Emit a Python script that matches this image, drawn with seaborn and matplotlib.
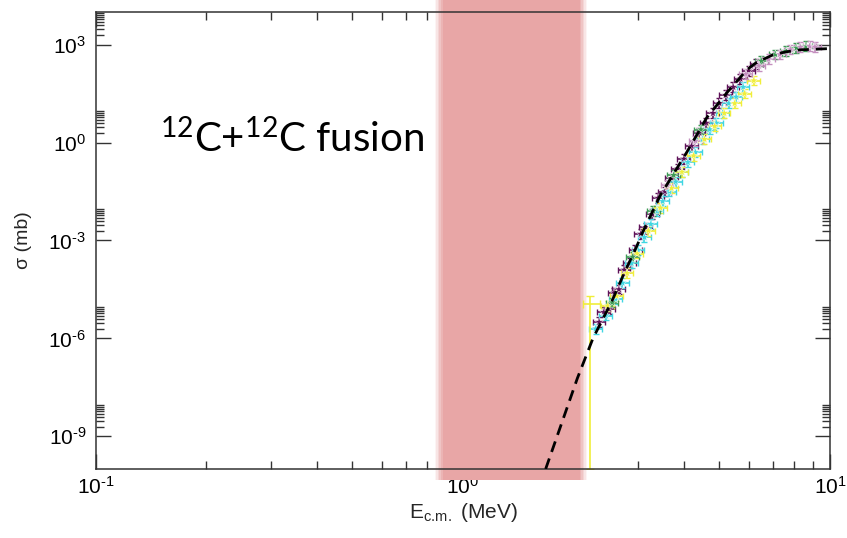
import numpy as np
import pandas as pd
import matplotlib
matplotlib.use("Agg")
import matplotlib.pyplot as plt
import matplotlib.ticker as mticker
import seaborn as sns

# dashed model curve (E in MeV, log10 sigma in mb)
curve_e = [1.68, 2.05, 2.26, 2.55, 2.73, 2.98, 3.09, 3.44, 4.07, 4.62, 5.24, 5.94, 6.3, 7.0, 7.6, 8.28, 9.55, 10.0]
curve_logs = [-10.0, -7.22, -6.0, -4.84, -4.08, -3.16, -2.74, -1.64, -0.3, 0.77, 1.53, 2.23, 2.45, 2.69, 2.78, 2.84, 2.87, 2.88]

# measured data sets (E in MeV, log10 sigma in mb)
purple_e = [2.35, 2.42, 2.5, 2.58, 2.66, 2.75, 2.85, 2.95, 3.05, 3.15, 3.28, 3.4, 3.55,
            3.7, 3.85, 4.0, 4.2, 4.4, 4.6, 4.8, 5.0, 5.2, 5.45, 5.7, 6.0, 6.3]
purple_logs = [-5.5, -5.2, -5.1, -4.6, -4.5, -3.9, -3.7, -3.3, -2.8, -2.6, -2.2, -1.7, -1.5,
               -1.1, -0.8, -0.5, -0.1, 0.3, 0.6, 0.9, 1.2, 1.45, 1.7, 1.95, 2.2, 2.4]
cyan_e = [2.3, 2.45, 2.6, 2.72, 2.88, 3.0, 3.12, 3.25, 3.38, 3.5, 3.65, 3.8, 3.95, 4.1,
          4.3, 4.5, 4.7, 4.9, 5.1, 5.3, 5.55, 5.8]
cyan_logs = [-5.7, -5.3, -4.8, -4.3, -3.7, -3.3, -2.9, -2.5, -2.1, -1.8, -1.5, -1.2, -0.9, -0.6,
             -0.3, 0.1, 0.4, 0.6, 0.9, 1.2, 1.4, 1.7]
yellow_e = [2.48, 2.62, 2.8, 2.98, 3.2, 3.45, 3.7, 3.95, 4.25, 4.55, 4.85, 5.15, 5.5, 5.85, 6.2]
yellow_logs = [-5.0, -4.7, -4.0, -3.4, -2.7, -2.0, -1.4, -0.9, -0.4, 0.1, 0.5, 0.9, 1.2, 1.5, 1.9]
green_e = [2.55, 2.9, 3.3, 3.75, 4.45, 6.5, 7.1, 7.6, 8.1, 8.6]
green_logs = [-4.9, -3.5, -2.1, -1.0, 0.4, 2.5, 2.7, 2.8, 2.9, 2.95]
pink_e = [3.6, 4.3, 5.9, 6.4, 6.8, 7.3, 7.8, 8.3, 8.8, 9.1]
pink_logs = [-1.3, 0.05, 2.1, 2.35, 2.55, 2.7, 2.85, 2.92, 2.95, 2.93]

# lowest yellow point, error bar reaching to the bottom of the plot
low_e = 2.22
low_logs = -4.95
low_floor = -10.0

band_lo, band_hi = 0.88, 2.08

y_exps = [-9, -6, -3, 0, 3]
x_exps = [-1, 0, 1]

series = {"purple": (purple_e, purple_logs), "cyan": (cyan_e, cyan_logs),
          "yellow": (yellow_e, yellow_logs), "green": (green_e, green_logs),
          "pink": (pink_e, pink_logs)}
colors = {"purple": "#5e1158", "cyan": "#3fd6e2", "yellow": "#f0ee3a",
          "green": "#3d9a55", "pink": "#c48fbf"}

rows = []
for name, (ee, ll) in series.items():
    for e, l in zip(ee, ll):
        rows.append({"set": name, "E": e, "sigma": 10.0 ** l})
df = pd.DataFrame(rows)
curve = pd.DataFrame({"E": curve_e, "sigma": 10.0 ** np.array(curve_logs)})


def pow_label(k):
    # short hyphen instead of the long minus sign
    return "$\\mathdefault{10^{%s}}$" % str(k).replace("-", "\u2010")


sns.set_theme(style="white")
plt.rcParams["font.family"] = ["Liberation Sans", "DejaVu Sans"]
plt.rcParams["mathtext.default"] = "regular"
plt.rcParams["axes.unicode_minus"] = False

fig = plt.figure(figsize=(8.47, 5.38), dpi=100)
ax = fig.add_axes([0.1133, 0.1283, 0.8666, 0.8494])
ax.set_xscale("log")
ax.set_yscale("log")

# shaded region with soft edges
for pad, a in [(1.05, 0.12), (1.04, 0.18), (1.03, 0.25), (1.02, 0.35), (1.01, 0.5), (1.0, 1.0)]:
    ax.axvspan(band_lo / pad, band_hi * pad, ymin=-0.025, ymax=1.03, color="#e8a6a6",
               alpha=a, lw=0, zorder=1 if pad == 1.0 else 0.9, clip_on=False)

# error bars and markers
for name, (ee, ll) in series.items():
    ee = np.array(ee)
    yy = 10.0 ** np.array(ll)
    ax.errorbar(ee, yy, xerr=ee * 0.04, yerr=[yy * (1 - 10 ** -0.15), yy * (10 ** 0.15 - 1)],
                fmt="none", ecolor=colors[name], elinewidth=1.2, capsize=2.5, zorder=2)
ly = 10.0 ** low_logs
ax.errorbar([low_e], [ly], xerr=[[0.1], [0.14]], yerr=[[ly - 10 ** low_floor], [ly * 0.8]],
            fmt="none", ecolor=colors["yellow"], elinewidth=1.2, capsize=3, zorder=2)

sns.scatterplot(data=df, x="E", y="sigma", hue="set", palette=colors, marker="*",
                s=45, linewidth=0.3, legend=False, ax=ax, zorder=3)

sns.lineplot(data=curve, x="E", y="sigma", color="black", lw=2.0,
             linestyle=(0, (4, 2.5)), ax=ax, zorder=7)

ax.set_xlim(0.1, 10)
ax.set_ylim(1e-10, 1e4)

ax.yaxis.set_major_locator(mticker.FixedLocator([10.0 ** k for k in y_exps]))
ax.yaxis.set_minor_locator(mticker.FixedLocator(
    [m * 10.0 ** k for k in y_exps for m in range(2, 10)]))
ax.yaxis.set_major_formatter(mticker.FixedFormatter([pow_label(k) for k in y_exps]))
ax.yaxis.set_minor_formatter(mticker.NullFormatter())
ax.xaxis.set_major_locator(mticker.FixedLocator([10.0 ** k for k in x_exps]))
ax.xaxis.set_major_formatter(mticker.FixedFormatter([pow_label(k) for k in x_exps]))
ax.xaxis.set_minor_locator(mticker.LogLocator(base=10, subs=range(2, 10)))
ax.xaxis.set_minor_formatter(mticker.NullFormatter())

ax.tick_params(which="both", direction="in", top=True, right=True, left=True, bottom=True,
               colors="#333333", labelcolor="black", labelsize=15)
ax.tick_params(which="major", length=11, width=1.0)
ax.tick_params(which="minor", length=6, width=1.0)
ax.tick_params(axis="y", pad=7)
ax.tick_params(axis="x", pad=5)
for sp in ax.spines.values():
    sp.set_color("#333333")
    sp.set_linewidth(1.1)
    sp.set_zorder(5)

ax.set_xlabel(r"E$_{c.\!m.}$ (MeV)", fontsize=15, labelpad=2)
ax.set_ylabel("σ (mb)", fontsize=14, labelpad=12)

ax.text(0.087, 0.694, r"$^{12}$C+$^{12}$C fusion", transform=ax.transAxes,
        fontsize=29, family=["Lato", "DejaVu Sans"], color="black", va="baseline")

fig.savefig("out.png", dpi=100)
